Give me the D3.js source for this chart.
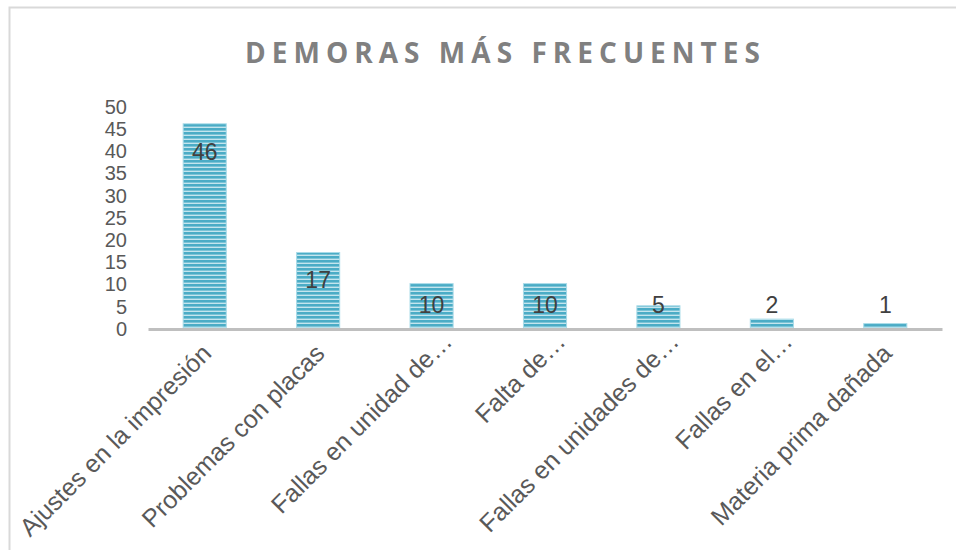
<!DOCTYPE html>
<html>
<head>
<meta charset="utf-8">
<script src="https://cdn.jsdelivr.net/npm/d3@7"></script>
<style>
  body { margin: 0; background: #fff; }
  svg { display: block; }
</style>
</head>
<body>
<div id="chart"></div>
<script>
// values
const categories = [
  "Ajustes en la impresión",
  "Problemas con placas",
  "Fallas en unidad de…",
  "Falta de…",
  "Fallas en unidades de…",
  "Fallas en el…",
  "Materia prima dañada"
];
const counts = [46, 17, 10, 10, 5, 2, 1];
const yTicks = [0, 5, 10, 15, 20, 25, 30, 35, 40, 45, 50];
const title = "DEMORAS MÁS FRECUENTES";

const width = 956, height = 550;
const margin = {top: 106, right: 14, bottom: 222, left: 148};
const labelFont = "'Liberation Sans', Arial, sans-serif";

let svg = d3.select("#chart").append("svg")
    .attr("width", width)
    .attr("height", height);

// chart frame (right / bottom edges fall outside the picture)
svg.append("rect")
    .attr("x", 9.5).attr("y", 7.5)
    .attr("width", 980).attr("height", 580)
    .attr("fill", "none")
    .attr("stroke", "#d9d9d9")
    .attr("stroke-width", 2);

// stripe pattern for the bars
let defs = svg.append("defs");
let pat = defs.append("pattern")
    .attr("id", "stripes")
    .attr("patternUnits", "userSpaceOnUse")
    .attr("width", 8).attr("height", 4);
pat.append("rect").attr("width", 8).attr("height", 4).attr("fill", "#4bacc6");
pat.append("rect").attr("y", 2.6).attr("width", 8).attr("height", 1.4).attr("fill", "#c4e5ee");

// title, spread with letter spacing to the reference width
let titleText = svg.append("text")
    .attr("x", 245)
    .attr("y", 63)
    .style("font-family", "'Open Sans', sans-serif")
    .style("font-weight", "bold")
    .style("font-size", "28px")
    .attr("fill", "#808080")
    .text(title);
let plainW = titleText.node().getComputedTextLength();
let spacing = (515 - plainW) / (title.length - 1);
titleText.style("letter-spacing", spacing + "px");

let xScale = d3.scaleBand()
    .domain(categories)
    .range([margin.left, width - margin.right])
    .paddingInner(0.62)
    .paddingOuter(0.31);

let yScale = d3.scaleLinear()
    .domain([0, 50])
    .range([height - margin.bottom, margin.top]);

// y axis labels, no line or ticks
let yAxis = d3.axisLeft(yScale).tickValues(yTicks).tickSize(0).tickPadding(0);
let gy = svg.append("g")
    .attr("transform", "translate(127,0)")
    .call(yAxis);
gy.select(".domain").remove();
gy.selectAll("text")
    .style("font-family", labelFont)
    .style("font-size", "20px")
    .attr("fill", "#595959")
    .attr("dy", "0.36em");

// bars
svg.append("g").selectAll("rect")
    .data(counts)
    .join("rect")
    .attr("x", (d, i) => xScale(categories[i]))
    .attr("y", d => yScale(d))
    .attr("width", xScale.bandwidth())
    .attr("height", d => yScale(0) - yScale(d))
    .attr("fill", "url(#stripes)")
    .attr("stroke", "#a8dbe8")
    .attr("stroke-width", 1);

// x axis line
let xAxis = d3.axisBottom(xScale).tickSize(0).tickFormat("");
let gx = svg.append("g")
    .attr("transform", "translate(0," + (yScale(0) + 1) + ")")
    .call(xAxis);
gx.select(".domain")
    .attr("stroke", "#bfbfbf")
    .attr("stroke-width", 3);

// rotated category labels (truncated ones sit a bit further out, as in the original)
svg.append("g").selectAll("text")
    .data(categories)
    .join("text")
    .attr("text-anchor", "end")
    .attr("transform", d => {
        let cut = d.endsWith("…");
        let x = xScale(d) + xScale.bandwidth() / 2 + (cut ? 22 : 8);
        let y = yScale(0) + (cut ? 15 : 27);
        return "translate(" + x + "," + y + ") rotate(-45)";
    })
    .style("font-family", labelFont)
    .style("font-size", "25px")
    .attr("fill", "#595959")
    .text(d => d);

// value labels
svg.append("g").selectAll("text")
    .data(counts)
    .join("text")
    .attr("x", (d, i) => xScale(categories[i]) + xScale.bandwidth() / 2)
    .attr("y", d => Math.min(yScale(d) + 27.5, 305))
    .attr("dy", "0.36em")
    .attr("text-anchor", "middle")
    .style("font-family", labelFont)
    .style("font-size", "23px")
    .attr("fill", "#404040")
    .text(d => d);
</script>
</body>
</html>
